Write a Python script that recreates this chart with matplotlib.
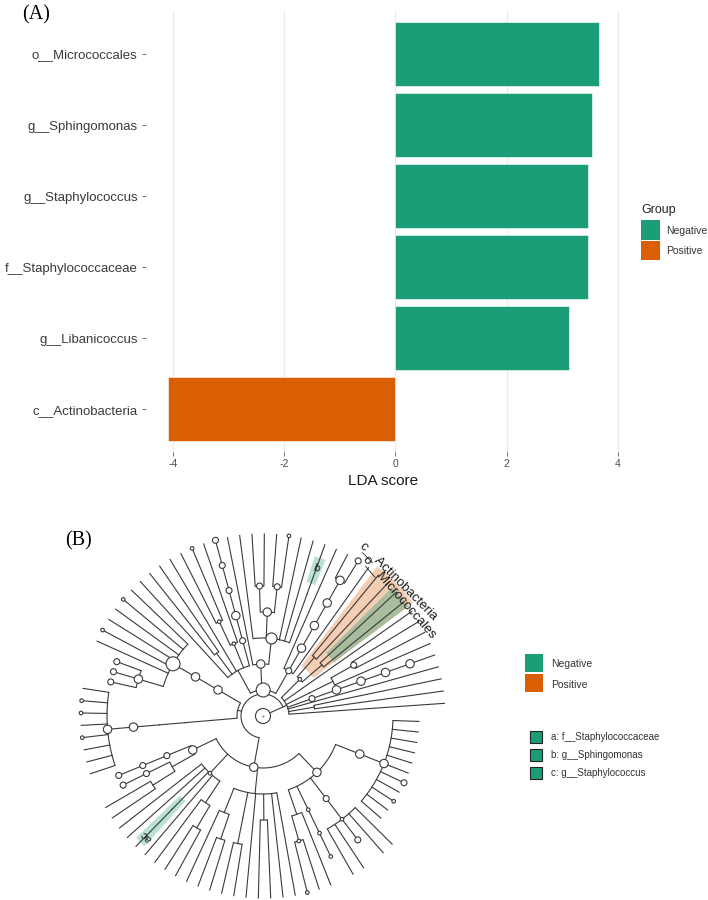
import re
import numpy as np
import matplotlib
matplotlib.use("Agg")
import matplotlib.pyplot as plt
from matplotlib.patches import Rectangle, Wedge, Circle

plt.rcParams['font.family'] = ['Liberation Sans', 'DejaVu Sans']

# ---- panel A data ----
taxa = ['o__Micrococcales', 'g__Sphingomonas', 'g__Staphylococcus',
        'f__Staphylococcaceae', 'g__Libanicoccus', 'c__Actinobacteria']
lda = [3.67, 3.53, 3.47, 3.46, 3.13, -4.10]
group = ['Negative', 'Negative', 'Negative', 'Negative', 'Negative', 'Positive']
group_names = ['Negative', 'Positive']
group_colors = {'Negative': '#1B9E77', 'Positive': '#D95F02'}
xticks = [-4, -2, 0, 2, 4]

# ---- panel B data: cladogram topology, one newick-like string per phylum ----
# leaf: [size][s]  (s = lineage stops one level short), node: (...)size[name]
phylum_1 = "(o,(o,o),o,(((((o)3)3)3)3)2,((o,(o,o)2)),o,((o,o)[Micro],(o,o))1[Actino])"
phylum_2 = ("((o,((((2,o)3)3)3)3,o)2,"
            "((((o)[b]),o,o,((1,o)2,(o,o)2)3,o)4,o)3,"
            "(((((2)2)2)3)2,(o,(1,o)1)1,o,(o,o),o))5")
phylum_3 = "((((o,1,o,o,1,o,(2s,2s,2s)3)5)3)3,(((((o,1,1,o,1,o,o,o)3)3))))"
phylum_4 = ("(((((2s)2)2,((2s)2,(o,o)))3,"
            "(o,o,((o)[c])[a],o,(o,(o,o)))1,"
            "((o,(o,o)),((o,o)),o,(o,o),o,o),"
            "(((1,o)1,o),((1s)1)1,((o,o,2s,o,o)1)2,((s,s,1s,s,2s,s,s,s,s,s,s)3)3)3)3)")
phyla = [phylum_1, phylum_2, phylum_3, phylum_4]

clade_group = {'Actino': 'Positive', 'Micro': 'Negative', 'a': 'Negative',
               'b': 'Negative', 'c': 'Negative'}
clade_text = {'Actino': 'c__Actinobacteria', 'Micro': 'o__Micrococcales'}
letters = ['a', 'b', 'c']
letter_names = ['f__Staphylococcaceae', 'g__Sphingomonas', 'g__Staphylococcus']

LABEL = re.compile(r'(\d?)([so]?)(?:\[(\w+)\])?')


def parse(s):
    s = s.replace(' ', '')
    pos = 0

    def node(depth):
        nonlocal pos
        kids = []
        if s[pos] == '(':
            pos += 1
            kids.append(node(depth + 1))
            while s[pos] == ',':
                pos += 1
                kids.append(node(depth + 1))
            pos += 1
        m = LABEL.match(s, pos)
        pos = m.end()
        return {'kids': kids, 'size': int(m.group(1) or 0),
                'short': m.group(2) == 's', 'name': m.group(3), 'depth': depth}
    return node(1)


def leaves(n):
    if not n['kids']:
        return [n]
    out = []
    for k in n['kids']:
        out += leaves(k)
    return out


STEP_R = 26.0


def place(n):
    if n['kids']:
        for k in n['kids']:
            place(k)
        n['ang'] = (n['kids'][0]['ang'] + n['kids'][-1]['ang']) / 2
        n['r'] = STEP_R * n['depth']
    else:
        n['r'] = STEP_R * (6 if n['short'] else 7)


def pol(r, a):
    t = np.deg2rad(a)
    return r * np.cos(t), r * np.sin(t)


LW = 0.8
LC = '#3a3a3a'
RAD = {1: 1.8, 2: 3.0, 3: 4.2, 4: 5.5, 5: 7.0, 6: 7.5}


def arc(ax, r, a0, a1):
    t = np.linspace(a0, a1, max(2, int(abs(a1 - a0) * 2)))
    x, y = pol(r, t)
    ax.plot(x, y, color=LC, lw=LW, zorder=2, solid_capstyle='butt')


def draw(ax, n):
    if not n['kids']:
        return
    arc(ax, n['r'], n['kids'][0]['ang'], n['kids'][-1]['ang'])
    for k in n['kids']:
        x0, y0 = pol(n['r'], k['ang'])
        x1, y1 = pol(k['r'], k['ang'])
        ax.plot([x0, x1], [y0, y1], color=LC, lw=LW, zorder=2)
        draw(ax, k)


def walk(n):
    yield n
    for k in n['kids']:
        yield from walk(k)


fig = plt.figure(figsize=(7.08, 9.0), dpi=100)
W, H = 708.0, 900.0


def fx(px):
    return px / W


def fy(py):
    return 1 - py / H


# ================= panel A =================
axA = fig.add_axes([fx(146), fy(452), 475 / W, 440.6 / H])
ypos = np.arange(len(taxa))[::-1] + 1
axA.barh(ypos, lda, height=0.9, color=[group_colors[g] for g in group],
         edgecolor='white', linewidth=0.4, zorder=2)
axA.set_ylim(0.4, 6.6)
axA.set_xlim(-4.49, 4.06)
axA.set_yticks(ypos, taxa)
axA.set_xticks(xticks, [str(v) for v in xticks])
axA.grid(axis='x', color='#EBEBEB', lw=0.9, zorder=0)
axA.grid(axis='y', visible=False)
axA.set_axisbelow(True)
for s in axA.spines.values():
    s.set_visible(False)
axA.tick_params(axis='y', length=2.75, width=0.6, color='#555555', pad=3.2,
                labelsize=9.5, labelcolor='#3a3a3a')
axA.tick_params(axis='x', length=2.75, width=0.6, color='#555555', pad=2.2,
                labelsize=7.5, labelcolor='#4D4D4D')
axA.set_xlabel('LDA score', fontsize=11, color='#1a1a1a', labelpad=4)

fig.text(fx(641), fy(210), 'Group', fontsize=9, color='#222222', va='center')
for i, g in enumerate(group_names):
    fig.add_artist(Rectangle((fx(641), fy(240 + 20 * i)), 19 / W, 19.5 / H,
                             transform=fig.transFigure, fc=group_colors[g], ec='none'))
    fig.text(fx(666), fy(231 + 20.5 * i), g, fontsize=7.5, color='#333333', va='center')

fig.text(fx(36), fy(15), '(A)', family='Liberation Serif', fontsize=14.5,
         ha='center', va='center')
fig.text(fx(79), fy(541), '(B)', family='Liberation Serif', fontsize=14.5,
         ha='center', va='center')

# ================= panel B =================
cx, cy = 263, 716
x_left, x_right, y_top, y_bot = 40, 480, 490, 900
axB = fig.add_axes([fx(x_left), fy(y_bot), (x_right - x_left) / W, (y_bot - y_top) / H])
axB.set_xlim(x_left - cx, x_right - cx)
axB.set_ylim(cy - y_bot, cy - y_top)
axB.axis('off')

roots = [parse(p) for p in phyla]
all_leaves = []
for p in roots:
    all_leaves += leaves(p)
a_start, a_end = 4.0, 358.0
step = (a_end - a_start) / (len(all_leaves) - 1)
for i, lf in enumerate(all_leaves):
    lf['ang'] = a_start + i * step
for p in roots:
    place(p)

# highlights
hl_outer = {'Actino': 188, 'Micro': 182, 'a': 176, 'b': 168}
named = {}
for p in roots:
    for n in walk(p):
        if n['name']:
            named[n['name']] = n
for name in ['Actino', 'Micro', 'a', 'b']:
    n = named[name]
    angs = [lf['ang'] for lf in leaves(n)]
    r_in = n['r'] + 11
    r_out = hl_outer[name]
    alpha = 0.3 if name != 'Micro' else 0.35
    axB.add_patch(Wedge((0, 0), r_out, min(angs) - step / 2, max(angs) + step / 2,
                        width=r_out - r_in, fc=group_colors[clade_group[name]],
                        ec='none', alpha=alpha, zorder=1))

# root
r_root = 22
arc(axB, r_root, roots[0]['ang'], roots[-1]['ang'])
x1, y1 = pol(r_root, roots[0]['ang'])
axB.plot([0, x1], [0, y1], color=LC, lw=LW, zorder=2)
for p in roots:
    x0, y0 = pol(r_root, p['ang'])
    x1, y1 = pol(p['r'], p['ang'])
    axB.plot([x0, x1], [y0, y1], color=LC, lw=LW, zorder=2)
    draw(axB, p)
axB.add_patch(Circle((0, 0), RAD[6], fc='white', ec=LC, lw=LW, zorder=3))
axB.plot([0], [0], marker='.', ms=1, color='#777777', zorder=4)

for p in roots:
    for n in walk(p):
        if n['size'] > 0:
            axB.add_patch(Circle(pol(n['r'], n['ang']), RAD[n['size']],
                                 fc='white', ec=LC, lw=LW, zorder=3))

# clade labels
for name, r_lab in [('Actino', 192), ('Micro', 181)]:
    a = named[name]['ang']
    axB.text(*pol(r_lab, a), clade_text[name], rotation=a - 90, rotation_mode='anchor',
             ha='center', va='center', fontsize=9.5, color='#1a1a1a', zorder=5)

tips = {}
for l in letters:
    a = leaves(named[l])[0]['ang']
    tips.setdefault(round(a, 3), []).append(l)
for a, ls in tips.items():
    r_lab = 157 if len(ls) == 1 else 167
    axB.text(*pol(r_lab, a), ''.join(ls), rotation=a - 90, rotation_mode='anchor',
             ha='center', va='center', fontsize=8, color='#1a1a1a', zorder=5)

# legend B
for i, g in enumerate(group_names):
    fig.add_artist(Rectangle((fx(525), fy(672 + 20 * i)), 18 / W, 18 / H,
                             transform=fig.transFigure, fc=group_colors[g], ec='none'))
    fig.text(fx(551), fy(664 + 20.5 * i), g, fontsize=7.5, color='#333333', va='center')
for i, (l, nm) in enumerate(zip(letters, letter_names)):
    fig.add_artist(Rectangle((fx(530), fy(743 + 18 * i)), 12 / W, 12 / H,
                             transform=fig.transFigure, fc=group_colors['Negative'],
                             ec='#222222', lw=0.8))
    fig.text(fx(551), fy(737 + 18 * i), l + ': ' + nm, fontsize=7, color='#333333',
             va='center')

fig.savefig('out.png', dpi=100)
